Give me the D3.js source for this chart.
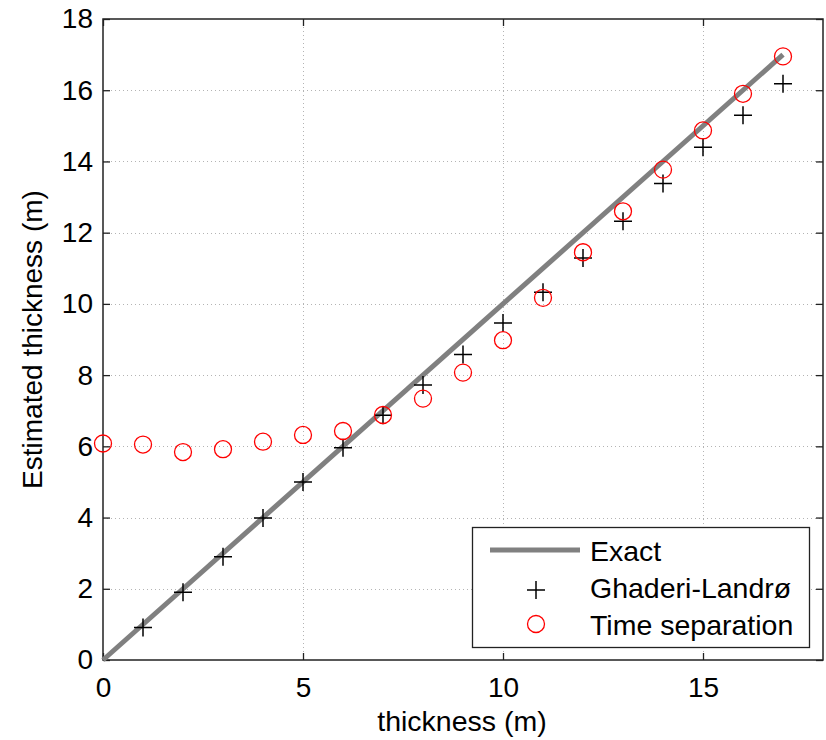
<!DOCTYPE html>
<html>
<head>
<meta charset="utf-8">
<script src="https://cdn.jsdelivr.net/npm/d3@7"></script>
<style>
  html, body { margin: 0; padding: 0; background: #fff; }
  svg { display: block; font-family: "Liberation Sans", Arial, sans-serif; }
</style>
</head>
<body>
<svg id="chart" width="826" height="740"></svg>
<script>
// Layer thickness vs. estimated thickness for two estimation methods
const exactX = [0, 17];
const ghaderiX = [1, 2, 3, 4, 5, 6, 7, 8, 9, 10, 11, 12, 13, 14, 15, 16, 17];
const ghaderiY = [0.91, 1.9, 2.9, 3.99, 5.0, 5.96, 6.87, 7.72, 8.58, 9.46, 10.33, 11.29, 12.32, 13.38, 14.4, 15.3, 16.18];
const timeSepX = [0, 1, 2, 3, 4, 5, 6, 7, 8, 9, 10, 11, 12, 13, 14, 15, 16, 17];
const timeSepY = [6.08, 6.05, 5.84, 5.92, 6.13, 6.32, 6.43, 6.88, 7.34, 8.07, 8.98, 10.17, 11.45, 12.6, 13.77, 14.87, 15.9, 16.95];
const xTicks = [0, 5, 10, 15];
const yTicks = [0, 2, 4, 6, 8, 10, 12, 14, 16, 18];
const legendLabels = ["Exact", "Ghaderi-Landrø", "Time separation"];

const svg = d3.select("#chart");
const L = 103, R = 823, T = 19, B = 660;

const x = d3.scaleLinear().domain([0, 18]).range([L, R]);
const y = d3.scaleLinear().domain([0, 18]).range([B, T]);

// dotted grid
const grid = svg.append("g").attr("stroke", "#b4b4b4").attr("stroke-width", 1)
  .attr("stroke-dasharray", "1,3");
grid.selectAll(".gx").data(xTicks.filter(d => d > 0)).join("line")
  .attr("x1", d => Math.round(x(d)) + 0.5).attr("x2", d => Math.round(x(d)) + 0.5)
  .attr("y1", T).attr("y2", B);
grid.selectAll(".gy").data(yTicks.filter(d => d > 0 && d < 18)).join("line")
  .attr("y1", d => Math.round(y(d)) + 0.5).attr("y2", d => Math.round(y(d)) + 0.5)
  .attr("x1", L).attr("x2", R);

// axes with inward ticks
const tickLen = 7;
const axBottom = svg.append("g").attr("transform", `translate(0,${B})`)
  .call(d3.axisBottom(x).tickValues(xTicks).tickSize(-tickLen).tickPadding(17).tickFormat(d3.format("d")));
const axTop = svg.append("g").attr("transform", `translate(0,${T})`)
  .call(d3.axisTop(x).tickValues(xTicks).tickSize(-tickLen).tickFormat(""));
const axLeft = svg.append("g").attr("transform", `translate(${L},0)`)
  .call(d3.axisLeft(y).tickValues(yTicks).tickSize(-tickLen).tickPadding(10).tickFormat(d3.format("d")));
const axRight = svg.append("g").attr("transform", `translate(${R},0)`)
  .call(d3.axisRight(y).tickValues(yTicks).tickSize(-tickLen).tickFormat(""));
[axBottom, axTop, axLeft, axRight].forEach(g => {
  g.select(".domain").remove();
  g.selectAll(".tick line").attr("stroke", "#222").attr("stroke-width", 1.3);
  g.selectAll("text").attr("font-size", 28).attr("fill", "#000")
    .attr("font-family", "Liberation Sans, Arial, sans-serif");
});

// box
svg.append("rect").attr("x", L).attr("y", T).attr("width", R - L).attr("height", B - T)
  .attr("fill", "none").attr("stroke", "#222").attr("stroke-width", 1.5);

// exact line
svg.append("line")
  .attr("x1", x(exactX[0])).attr("y1", y(exactX[0]))
  .attr("x2", x(exactX[1])).attr("y2", y(exactX[1]))
  .attr("stroke", "#808080").attr("stroke-width", 5);

// plus markers
const plusPath = s => `M${-s},0H${s}M0,${-s}V${s}`;
svg.append("g").selectAll("path").data(ghaderiX).join("path")
  .attr("transform", (d, i) => `translate(${x(d)},${y(ghaderiY[i])})`)
  .attr("d", plusPath(9)).attr("stroke", "#000").attr("stroke-width", 1.5).attr("fill", "none");

// circle markers
svg.append("g").selectAll("circle").data(timeSepX).join("circle")
  .attr("cx", d => x(d)).attr("cy", (d, i) => y(timeSepY[i]))
  .attr("r", 8.5).attr("fill", "none").attr("stroke", "#ff0000").attr("stroke-width", 1.3);

// axis titles
svg.append("text").attr("x", 462).attr("y", 731).attr("text-anchor", "middle")
  .attr("font-size", 28.5).text("thickness (m)");
svg.append("text").attr("transform", "translate(42,339.5) rotate(-90)").attr("text-anchor", "middle")
  .attr("font-size", 28).text("Estimated thickness (m)");

// legend
const lg = svg.append("g");
lg.append("rect").attr("x", 472.5).attr("y", 527.5).attr("width", 337).attr("height", 120)
  .attr("fill", "#fff").attr("stroke", "#222").attr("stroke-width", 1.3);
lg.append("line").attr("x1", 490).attr("x2", 580).attr("y1", 550).attr("y2", 550)
  .attr("stroke", "#808080").attr("stroke-width", 5);
lg.append("path").attr("transform", "translate(536,590)").attr("d", plusPath(9))
  .attr("stroke", "#000").attr("stroke-width", 1.5);
lg.append("circle").attr("cx", 536).attr("cy", 624).attr("r", 8.5)
  .attr("fill", "none").attr("stroke", "#ff0000").attr("stroke-width", 1.3);
lg.selectAll("text").data(legendLabels).join("text")
  .attr("x", 590).attr("y", (d, i) => 561 + i * 37)
  .attr("font-size", 28.5).text(d => d);
</script>
</body>
</html>
